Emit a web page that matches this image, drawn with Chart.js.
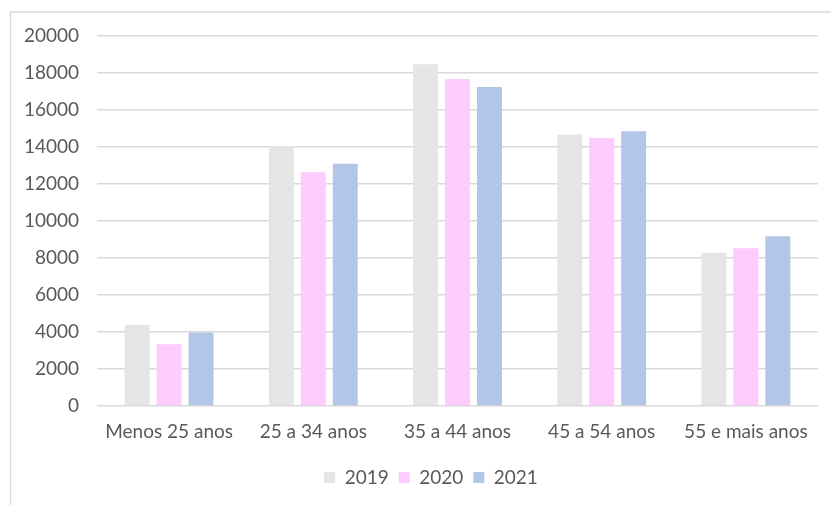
<!DOCTYPE html>
<html>
<head>
<meta charset="utf-8">
<script src="https://cdn.jsdelivr.net/npm/chart.js@4.4.1/dist/chart.umd.min.js"></script>
<style>
    html, body { margin: 0; padding: 0; background: #fff; }
    #wrap { position: relative; width: 831px; height: 505px; }
</style>
</head>
<body>
<div id="wrap"><canvas id="ageChart" width="831" height="505"></canvas></div>
<script>
// Age groups and yearly totals
const categories = ['Menos 25 anos', '25 a 34 anos', '35 a 44 anos', '45 a 54 anos', '55 e mais anos'];
const years = ['2019', '2020', '2021'];
const values2019 = [4380, 14050, 18470, 14670, 8280];
const values2020 = [3340, 12630, 17670, 14490, 8530];
const values2021 = [3970, 13100, 17250, 14850, 9180];
const yTicks = [0, 2000, 4000, 6000, 8000, 10000, 12000, 14000, 16000, 18000, 20000];

const COLORS = ['#e5e5e5', '#fdcbfd', '#b4c6e7'];
const TEXT = '#595959';
const GRID = '#d9d9d9';
const FONT = { family: 'Lato', size: 19 };

// light frame around the chart (left and top edges are visible)
const framePlugin = {
    id: 'frame',
    beforeDraw(chart) {
        const c = chart.ctx;
        c.save();
        c.strokeStyle = GRID;
        c.lineWidth = 1.5;
        c.beginPath();
        c.moveTo(10.5, chart.height);
        c.lineTo(10.5, 12);
        c.lineTo(chart.width, 12);
        c.stroke();
        c.restore();
    }
};

// centre the legend under the framed area rather than the plot
const legendShift = {
    id: 'legendShift',
    afterLayout(chart) {
        chart.legend.left += 22;
        chart.legend.right += 22;
    }
};

const ctx = document.getElementById('ageChart').getContext('2d');

new Chart(ctx, {
    type: 'bar',
    data: {
        labels: categories,
        datasets: [values2019, values2020, values2021].map((vals, i) => ({
            label: years[i],
            data: vals,
            backgroundColor: COLORS[i],
            borderWidth: 0,
            categoryPercentage: 0.665,
            barPercentage: 0.78
        }))
    },
    options: {
        responsive: false,
        animation: false,
        layout: { padding: { top: 36, right: 13, left: 0, bottom: 8 } },
        plugins: {
            tooltip: { enabled: false },
            legend: {
                position: 'bottom',
                labels: {
                    color: TEXT,
                    font: FONT,
                    boxWidth: 11,
                    boxHeight: 11,
                    padding: 10
                }
            }
        },
        scales: {
            x: {
                grid: { display: false },
                border: { display: false },
                ticks: { color: TEXT, font: FONT, padding: 6, maxRotation: 0 },
                afterFit(scale) { scale.height = 52; }
            },
            y: {
                min: 0,
                max: 20000,
                afterBuildTicks(scale) { scale.ticks = yTicks.map(v => ({ value: v })); },
                grid: { color: GRID, lineWidth: 1.5, drawTicks: false },
                border: { display: false },
                ticks: { color: TEXT, font: FONT, padding: 18, callback: v => String(v) },
                afterFit(scale) { scale.width = 97; }
            }
        }
    },
    plugins: [framePlugin, legendShift]
});
</script>
</body>
</html>
